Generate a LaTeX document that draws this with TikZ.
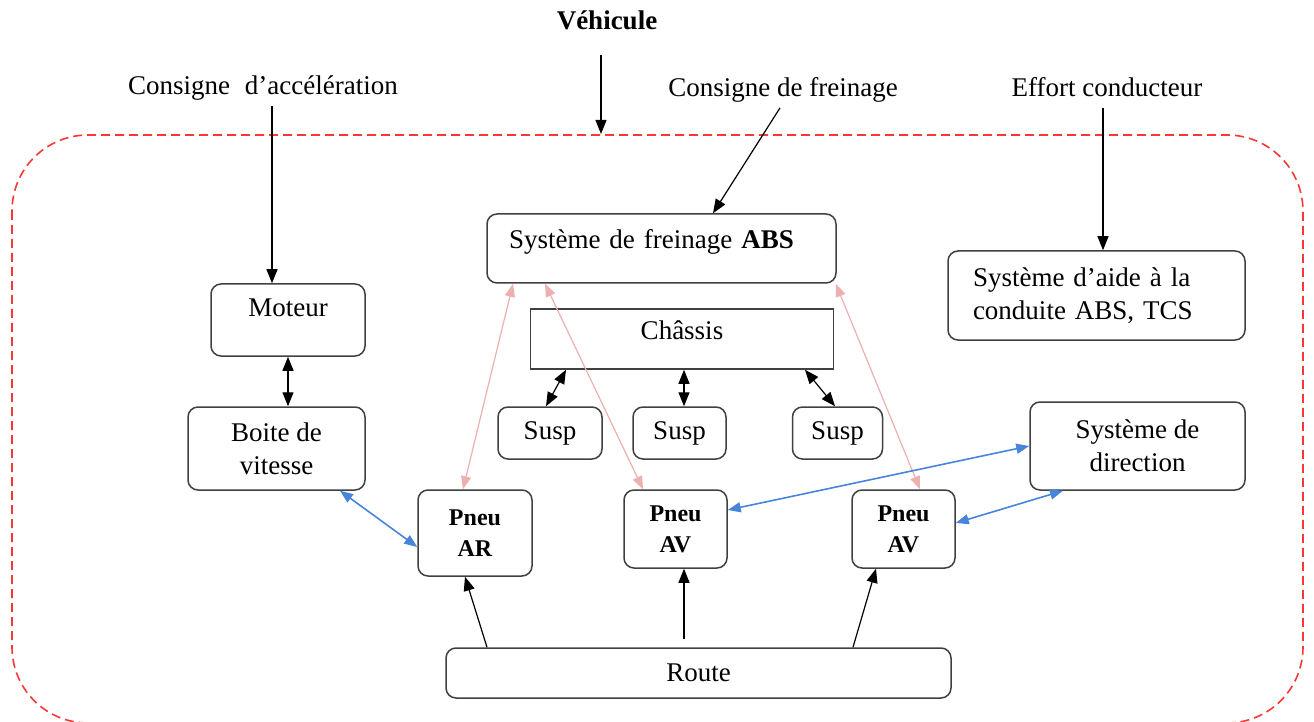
\documentclass[tikz,border=0pt]{standalone}
\usepackage{fontspec}
\setmainfont{Liberation Serif}
\usepackage{tikz}
\usetikzlibrary{arrows.meta}
\usetikzlibrary{positioning}

\definecolor{cadrerouge}{RGB}{250,55,55}
\definecolor{liaisonrose}{RGB}{236,176,176}
\definecolor{liaisonbleue}{RGB}{72,132,218}

\tikzset{
  bloc/.style={draw=black!75, line width=0.75pt, rounded corners=5pt, inner sep=0pt, align=center, font=\fontsize{13.5}{16.5}\selectfont},
  pneu/.style={bloc, minimum width=51.5pt, minimum height=39pt, font=\fontsize{12}{15.5}\selectfont\bfseries},
  etiq/.style={inner sep=2pt, text height=10pt, text depth=3.5pt, font=\fontsize{13.5}{16}\selectfont},
  fl/.style={line width=0.6pt, -{Triangle[length=7pt,width=5.5pt]}},
  dfl/.style={line width=0.6pt, {Triangle[length=7pt,width=5.5pt]}-{Triangle[length=7pt,width=5.5pt]}},
  rose/.style={draw=liaisonrose, line width=0.6pt, {Triangle[length=6.5pt,width=5pt]}-{Triangle[length=6.5pt,width=5pt]}},
  bleu/.style={draw=liaisonbleue, line width=0.8pt, {Triangle[length=6.5pt,width=5pt]}-{Triangle[length=6.5pt,width=5pt]}},
  cadre/.style={draw=cadrerouge, line width=0.8pt, dash pattern=on 4.5pt off 2.5pt, rounded corners=38pt}
}

\begin{document}
\begin{tikzpicture}[x=0.5pt,y=-0.5pt]
    \useasboundingbox (0,0) rectangle (1314,722);
    \begin{scope}
    	\clip (0,0) rectangle (1314,722);
    	\draw[cadre] (12,135) rectangle (1303,723);
    \end{scope}

    \node[etiq, font=\fontsize{13.5}{16}\selectfont\bfseries] (vehicule) at (607,23) {Véhicule};
    \node[etiq] (accel) at (263,88) {Consigne\hspace{0.55em}d’accélération};
    \node[etiq] (frein) at (783,90) {Consigne de freinage};
    \node[etiq] (effort) at (1107,90) {Effort conducteur};
    \coordinate (vehbas) at (601,134);

    \node[bloc, minimum width=174.5pt, minimum height=34.5pt, text width=152.5pt, inner xsep=11pt, align=left, text height=10pt, text depth=10pt] (abs) at (661.5,248.5) {Système de freinage \textbf{ABS}};
    \node[bloc, minimum height=44.5pt, text width=123.5pt, inner xsep=12.5pt, align=left] (aide) at (1096.5,295.5) {Système d’aide à la\\conduite ABS, TCS};
    \node[bloc, minimum width=77pt, minimum height=36pt, text height=10pt, text depth=14pt] (moteur) at (288,320) {Moteur};
    \node[bloc, sharp corners, minimum width=151.5pt, minimum height=30pt, text height=10pt, text depth=9.5pt] (chassis) at (682,339) {Châssis};
    \node[bloc, minimum width=52pt, minimum height=26pt] (susp1) at (550,433) {Susp};
    \node[bloc, minimum width=46.5pt, minimum height=26pt] (susp2) at (679.5,433) {Susp};
    \node[bloc, minimum width=45pt, minimum height=26pt] (susp3) at (837.5,433) {Susp};
    \node[bloc, minimum width=88.5pt, minimum height=41.5pt] (boite) at (276.5,448.5) {Boite de\\vitesse};
    \node[bloc, minimum width=107.5pt, minimum height=44pt] (direction) at (1137.5,446) {Système de\\direction};
    \node[pneu, minimum width=57pt, minimum height=43pt] (pneuar) at (475,533) {Pneu\\AR};
    \node[pneu] (pneuavg) at (675.5,529) {Pneu\\AV};
    \node[pneu] (pneuavd) at (903.5,529) {Pneu\\AV};
    \node[bloc, minimum width=252.5pt, minimum height=25pt] (route) at (698.5,673) {Route};

    \draw[fl, shorten <=7.25pt] (vehicule.south -| vehbas) -- (vehbas);
    \draw[fl] ([xshift=-8pt]moteur.north |- accel.south) -- ([xshift=-8pt]moteur.north);
    \draw[fl] ([xshift=-1.5pt]frein.south) -- ([xshift=25.75pt]abs.north);
    \draw[fl] ([xshift=-2pt]effort.south) -- ([xshift=-2pt]effort.south |- aide.north);

    \draw[dfl] (moteur.south) -- (moteur.south |- boite.north);
    \draw[dfl] ([xshift=-58pt]chassis.south) -- ([xshift=-2pt]susp1.north);
    \draw[dfl] ([xshift=1pt]chassis.south) -- ([xshift=1pt]chassis.south |- susp2.north);
    \draw[dfl] ([xshift=61.5pt]chassis.south) -- ([xshift=-1.25pt]susp3.north);

    \draw[rose] ([xshift=-74.25pt]abs.south) -- ([xshift=-6pt]pneuar.north);
    \draw[rose] ([xshift=-58.25pt]abs.south) -- ([xshift=-16.25pt]pneuavg.north);
    \draw[rose] ([xshift=-0.5pt]abs.south east) -- ([xshift=8.25pt]pneuavd.north);

    \draw[bleu] ([xshift=31.75pt]boite.south) -- ([yshift=-7pt]pneuar.west);
    \draw[bleu] (direction.west) -- ([yshift=9.5pt]pneuavg.east);
    \draw[bleu] ([xshift=-37.25pt]direction.south) -- ([yshift=3pt]pneuavd.east);

    \draw[fl] ([xshift=-105.75pt]route.north) -- ([xshift=-5pt]pneuar.south);
    \draw[fl, shorten <=4pt] ([xshift=4.25pt]pneuavg.south |- route.north) -- ([xshift=4.25pt]pneuavg.south);
    \draw[fl] ([xshift=77.25pt]route.north) -- ([xshift=-13.75pt]pneuavd.south);
\end{tikzpicture}
\end{document}
